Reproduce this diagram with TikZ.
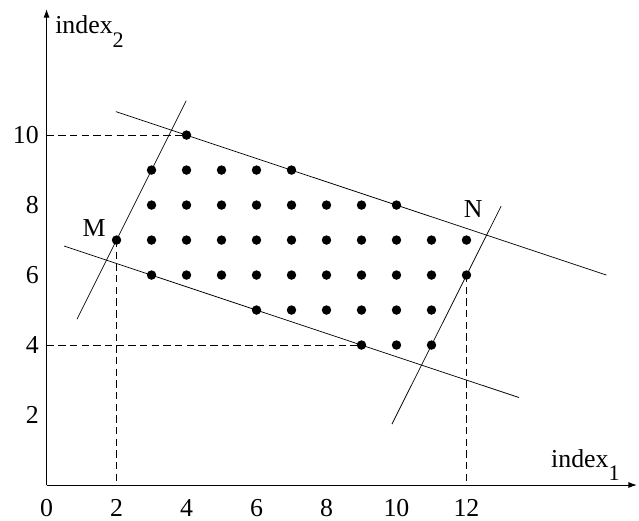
\documentclass[tikz,border=0pt]{standalone}
\usepackage{fontspec}
\setmainfont{Liberation Serif}
\usetikzlibrary{calc}
\usetikzlibrary{arrows.meta}
\newcommand{\idxlabel}[1]{index\raisebox{-11pt}{\fontsize{18}{21}\selectfont #1}}

\begin{document}
\begin{tikzpicture}[font=\fontsize{21}{25}\selectfont, line width=0.6pt]
    \useasboundingbox (-1.33,-1.0) rectangle (16.93,13.86);
    \tikzset{guide/.style={dash pattern=on 6pt off 3.5pt},
             axis/.style={line width=0.8pt, -{Latex[length=7pt,width=5pt]}},
             lab/.style={inner sep=0pt}}

    \coordinate (O) at (0,0);
    \draw [axis] (O) -- (16.87,0) coordinate (xend);
    \draw [axis] (O) -- (0,13.6) coordinate (yend);
    \node[lab, anchor=base west] (xlab) at (14.41,0.51) {\idxlabel{1}};
    \node[lab, anchor=base west] (ylab) at (0.24,12.89) {\idxlabel{2}};

    \foreach \x in {0,2,...,12}
        \node[lab, anchor=base] (xt\x) at (\x,-0.89) {\x};
    \foreach \y in {2,4,...,10}
        \node[lab, anchor=east] (yt\y) at (-0.21,\y) {\y};

    \coordinate (M) at (2,7);
    \coordinate (N) at (12,7);
    \coordinate (a1) at (1.98,10.67);
    \coordinate (a2) at (16,6);
    \coordinate (b1) at (0.5,6.83);
    \coordinate (b2) at (13.5,2.5);
    \coordinate (c1) at (0.87,4.74);
    \coordinate (c2) at (3.99,10.98);
    \coordinate (d1) at (9.87,1.74);
    \coordinate (d2) at (12.99,7.97);

    % guide lines to the axes
    \draw [guide] (0,10) -- (4,10);
    \draw [guide] (0,4) -- (9,4);
    \draw [guide] (M) -- (2,0);
    \draw [guide] (12,6) -- (12,0);

    \draw (a1) -- (a2);
    \draw (b1) -- (b2);
    \draw (c1) -- (c2);
    \draw (d1) -- (d2);

    \foreach \y/\a/\b in {10/4/4, 9/3/7, 8/3/10, 7/2/12, 6/3/12, 5/6/11, 4/9/11}
        \foreach \x in {\a,...,\b}
            \fill (\x,\y) circle (0.135);

    \node (Mlab) at ($(M)+(-0.64,0.34)$) {M};
    \node (Nlab) at ($(N)+(0.19,0.9)$) {N};
\end{tikzpicture}
\end{document}
